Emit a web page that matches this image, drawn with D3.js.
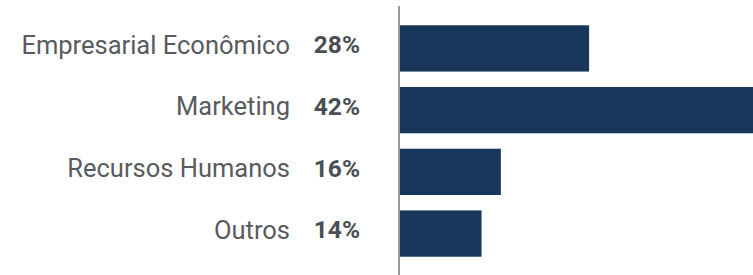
<html>
<head>
  <meta charset="UTF-8">
  <script src="https://d3js.org/d3.v7.min.js"></script>
  <style>
    body { margin: 0; background-color: white; }
    svg { display: block; }
  </style>
</head>
<body>
  <svg></svg>
</body>
<script>
  let width = 753,
    height = 275;

  // categories, printed shares and bar lengths
  let categories = ["Empresarial Econômico", "Marketing", "Recursos Humanos", "Outros"];
  let shares = [28, 42, 16, 14];
  let barValues = [22.5, 42, 12, 9.7];

  let svg = d3.select("svg")
    .attr("width", width)
    .attr("height", height);

  let x = d3.scaleLinear()
    .domain([0, 42])
    .range([400, 753]);

  let y = d3.scaleBand()
    .domain(categories)
    .range([6, 276])
    .paddingInner(0.25)
    .paddingOuter(0.3125);

  svg.append("g")
    .selectAll("rect")
    .data(categories)
    .enter()
    .append("rect")
    .attr("x", x(0))
    .attr("y", d => y(d))
    .attr("width", (d, i) => x(barValues[i]) - x(0))
    .attr("height", y.bandwidth())
    .attr("fill", "#18355a");

  svg.append("line")
    .attr("x1", 399)
    .attr("x2", 399)
    .attr("y1", 6)
    .attr("y2", height)
    .attr("stroke", "#777")
    .attr("stroke-width", 1.5);

  svg.append("g")
    .selectAll("text")
    .data(categories)
    .enter()
    .append("text")
    .attr("x", 290)
    .attr("y", d => y(d) + y.bandwidth() / 2)
    .attr("dy", "0.2em")
    .attr("text-anchor", "end")
    .style("font-family", "Roboto")
    .style("font-size", "25.5px")
    .style("fill", "#585b60")
    .text(d => d);

  svg.append("g")
    .selectAll("text")
    .data(categories)
    .enter()
    .append("text")
    .attr("x", 360)
    .attr("y", d => y(d) + y.bandwidth() / 2)
    .attr("dy", "0.2em")
    .attr("text-anchor", "end")
    .style("font-family", "Roboto")
    .style("font-size", "24.5px")
    .style("font-weight", "bold")
    .style("fill", "#4b4e53")
    .text((d, i) => shares[i] + "%");
</script>
</html>
